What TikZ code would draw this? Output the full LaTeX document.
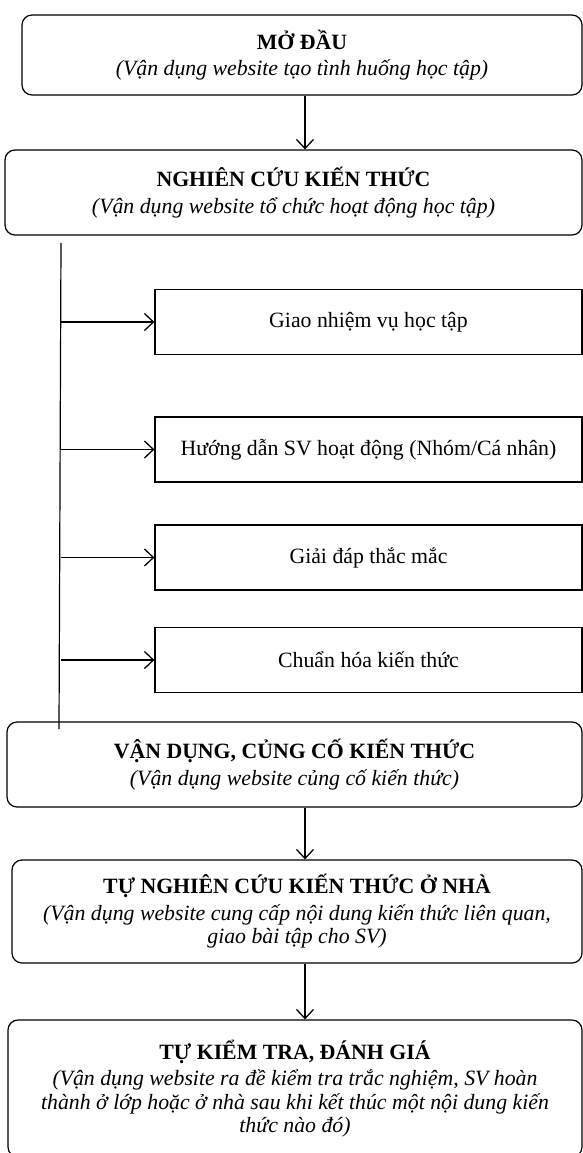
\documentclass[tikz,border=0pt]{standalone}
\usepackage{fontspec}
\setmainfont{Liberation Serif}
\usetikzlibrary{arrows.meta}

\tikzset{
  bigbox/.style={draw, line width=1.2pt, rounded corners=10pt, align=center, inner sep=0pt,
    font=\fontsize{21.8}{23.5}\selectfont},
  subbox/.style={draw, line width=1.2pt, minimum width=427pt, minimum height=65pt, inner sep=0pt,
    font=\fontsize{21.8}{23.5}\selectfont},
  flow/.style={line width=1.3pt, -{Straight Barb[length=9pt,width=17pt,line width=1.3pt]}},
}
\newcommand{\boxtitle}[1]{\textbf{#1}\\[3pt]}

\begin{document}
\begin{tikzpicture}[x=1pt,y=-1pt]
  \useasboundingbox (0,0) rectangle (583,1153);
  \coordinate (axis) at (305,0);

  \node[bigbox, minimum width=560pt, minimum height=80pt] (modau) at (302,55)
    {\boxtitle{MỞ ĐẦU}\textit{(Vận dụng website tạo tình huống học tập)}};
  \node[bigbox, minimum width=577pt, minimum height=85pt] (nghiencuu) at (293.5,192.5)
    {\boxtitle{NGHIÊN CỨU KIẾN THỨC}\textit{(Vận dụng website tổ chức hoạt động học tập)}};

  \coordinate (trunktop) at (61,243);
  \coordinate (trunkbot) at (59,729);
  \draw[line width=1.2pt] (trunktop) -- (trunkbot);

  \foreach \y/\name/\txt in {322/giao/{Giao nhiệm vụ học tập},
      449.5/huongdan/{Hướng dẫn SV hoạt động (Nhóm/Cá nhân)},
      557.5/giaidap/{Giải đáp thắc mắc},
      660/chuanhoa/{Chuẩn hóa kiến thức}} {
    \node[subbox] (\name) at (368.5,\y) {\txt};
    \draw[flow] (trunktop |- \name.west) -- (\name.west);
  }

  \node[bigbox, minimum width=575pt, minimum height=85pt] (vandung) at (294.5,764.5)
    {\boxtitle{VẬN DỤNG, CỦNG CỐ KIẾN THỨC}\textit{(Vận dụng website củng cố kiến thức)}};
  \node[bigbox, minimum width=570pt, minimum height=103pt] (tunghien) at (297,911.5)
    {\boxtitle{TỰ NGHIÊN CỨU KIẾN THỨC Ở NHÀ}\textit{(Vận dụng website cung cấp nội dung kiến thức liên quan,}\\
     \textit{giao bài tập cho SV)}};
  \node[bigbox, minimum width=574pt, minimum height=137pt] (kiemtra) at (295,1088.5)
    {\boxtitle{TỰ KIỂM TRA, ĐÁNH GIÁ}\textit{(Vận dụng website ra đề kiểm tra trắc nghiệm, SV hoàn}\\
     \textit{thành ở lớp hoặc ở nhà sau khi kết thúc một nội dung kiến}\\
     \textit{thức nào đó)}};

  \draw[flow] (modau.south -| axis) -- (nghiencuu.north -| axis);
  \draw[flow] (vandung.south -| axis) -- (tunghien.north -| axis);
  \draw[flow] (tunghien.south -| axis) -- (kiemtra.north -| axis);
\end{tikzpicture}
\end{document}
